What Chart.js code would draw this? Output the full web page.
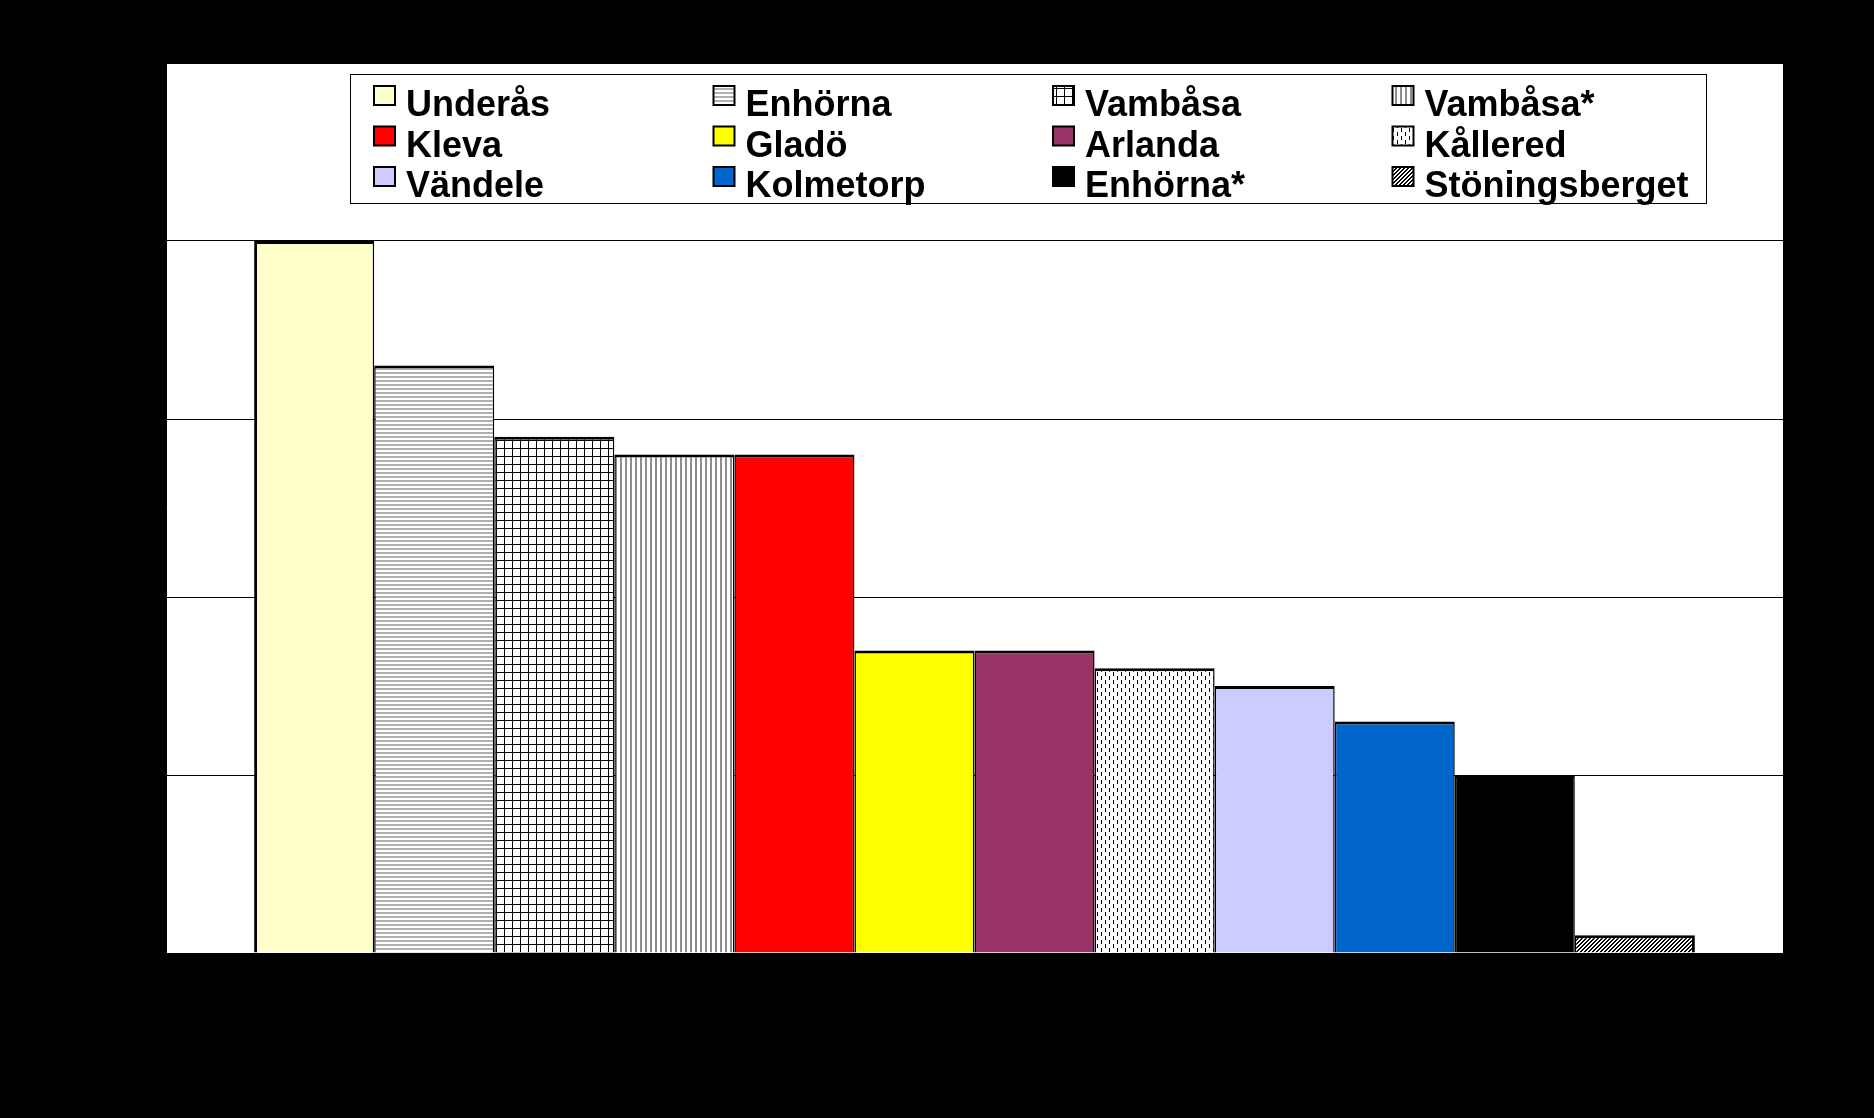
<!DOCTYPE html>
<html>
<head>
<meta charset="utf-8">
<title>Betong</title>
<script src="https://cdn.jsdelivr.net/npm/chart.js@4/dist/chart.umd.min.js"></script>
<style>
  html, body { margin: 0; padding: 0; background: #000; }
  canvas { display: block; }
</style>
</head>
<body>
<canvas id="chart" width="1874" height="1118"></canvas>
<script>
// data
const categories = ['Betong'];
const seriesNames = ['Underås', 'Enhörna', 'Vambåsa', 'Vambåsa*', 'Kleva', 'Gladö',
  'Arlanda', 'Kållered', 'Vändele', 'Kolmetorp', 'Enhörna*', 'Stöningsberget'];
const seriesValues = [200, 165, 145, 140, 140, 85, 85, 80, 75, 65, 50, 5];
const yTicks = [0, 50, 100, 150, 200, 250];

// fills: plain colours or a named hatch
const seriesFills = ['#FFFFCC', 'hlines', 'grid', 'vlines', '#FF0000', '#FFFF00',
  '#993366', 'dashes', '#CCCCFF', '#0066CC', '#000000', 'diag'];

function makePattern(kind) {
  const c = document.createElement('canvas');
  const p = c.getContext('2d');
  if (kind === 'hlines') {
    c.width = 4; c.height = 4;
    p.fillStyle = '#fff'; p.fillRect(0, 0, 4, 4);
    p.fillStyle = '#b0b0b0'; p.fillRect(0, 0, 4, 2);
  } else if (kind === 'grid') {
    c.width = 8; c.height = 8;
    p.fillStyle = '#fff'; p.fillRect(0, 0, 8, 8);
    p.fillStyle = '#000'; p.fillRect(0, 0, 8, 1); p.fillRect(0, 0, 1, 8);
  } else if (kind === 'vlines') {
    c.width = 5; c.height = 5;
    p.fillStyle = '#fff'; p.fillRect(0, 0, 5, 5);
    p.fillStyle = '#8c8c8c'; p.fillRect(0, 0, 2, 5);
  } else if (kind === 'dashes') {
    c.width = 8; c.height = 8;
    p.fillStyle = '#fff'; p.fillRect(0, 0, 8, 8);
    p.fillStyle = '#000'; p.fillRect(1, 0, 1, 4); p.fillRect(5, 4, 1, 4);
  } else if (kind === 'diag') {
    c.width = 4; c.height = 4;
    p.fillStyle = '#fff'; p.fillRect(0, 0, 4, 4);
    p.fillStyle = '#000';
    for (let y = 0; y < 4; y++) {
      p.fillRect((3 - y + 4) % 4, y, 1, 1);
      p.fillRect((4 - y + 4) % 4, y, 1, 1);
    }
  }
  return p.createPattern(c, 'repeat');
}

function fillFor(f) {
  return f.startsWith('#') ? f : makePattern(f);
}

const last = seriesNames.length - 1;
const datasets = seriesNames.map((name, i) => ({
  label: name,
  data: [seriesValues[i]],
  backgroundColor: fillFor(seriesFills[i]),
  borderColor: '#000',
  borderWidth: { top: 3, left: i === 0 ? 3 : 1.5, right: i === last ? 3 : 1.5, bottom: 0 },
  categoryPercentage: 0.891,
  barPercentage: 1
}));

const bgPlugin = {
  id: 'bg',
  beforeDraw(chart) {
    const { ctx, chartArea: a } = chart;
    ctx.save();
    ctx.fillStyle = '#000';
    ctx.fillRect(0, 0, chart.width, chart.height);
    ctx.fillStyle = '#fff';
    ctx.fillRect(a.left, a.top, a.right - a.left, a.bottom - a.top);
    ctx.restore();
  }
};

// boxed legend inside the plot, 4 columns x 3 rows
const boxLegend = {
  id: 'boxLegend',
  afterDraw(chart) {
    const ctx = chart.ctx;
    ctx.save();
    ctx.fillStyle = '#fff';
    ctx.fillRect(350, 74, 1356, 129);
    ctx.strokeStyle = '#000';
    ctx.lineWidth = 1;
    ctx.strokeRect(350.5, 74.5, 1356, 129);
    ctx.font = 'bold 36px "Liberation Sans", Arial, sans-serif';
    ctx.textBaseline = 'alphabetic';
    ctx.textAlign = 'left';
    chart.data.datasets.forEach((ds, i) => {
      const col = i % 4, row = Math.floor(i / 4);
      const x = 374 + col * 339.5;
      const base = 116 + row * 40.5;
      ctx.fillStyle = ds.backgroundColor;
      ctx.fillRect(x, base - 30, 21, 19);
      ctx.lineWidth = 2;
      ctx.strokeStyle = '#000';
      ctx.strokeRect(x, base - 30, 21, 19);
      ctx.fillStyle = '#000';
      ctx.fillText(ds.label, x + 32, base);
    });
    ctx.restore();
  }
};

new Chart(document.getElementById('chart'), {
  type: 'bar',
  data: { labels: categories, datasets },
  options: {
    responsive: false,
    animation: false,
    devicePixelRatio: 1,
    layout: { padding: { top: 63, right: 91, bottom: 0, left: 0 } },
    plugins: { legend: { display: false }, tooltip: { enabled: false } },
    scales: {
      x: {
        grid: { display: false, drawTicks: false },
        border: { display: true, color: '#000' },
        ticks: { color: '#000', padding: 50, font: { family: 'Liberation Sans', size: 34 } },
        afterFit(s) { s.height = 165; }
      },
      y: {
        min: 0,
        max: 250,
        afterBuildTicks(s) { s.ticks = yTicks.map(v => ({ value: v })); },
        grid: { color: '#000', lineWidth: 1, drawTicks: true, tickLength: 8, tickColor: '#000' },
        border: { display: true, color: '#000' },
        ticks: { color: '#000', padding: 26, font: { family: 'Liberation Sans', size: 26, weight: 'bold' } },
        afterFit(s) { s.width = 166; }
      }
    }
  },
  plugins: [bgPlugin, boxLegend]
});
</script>
</body>
</html>
